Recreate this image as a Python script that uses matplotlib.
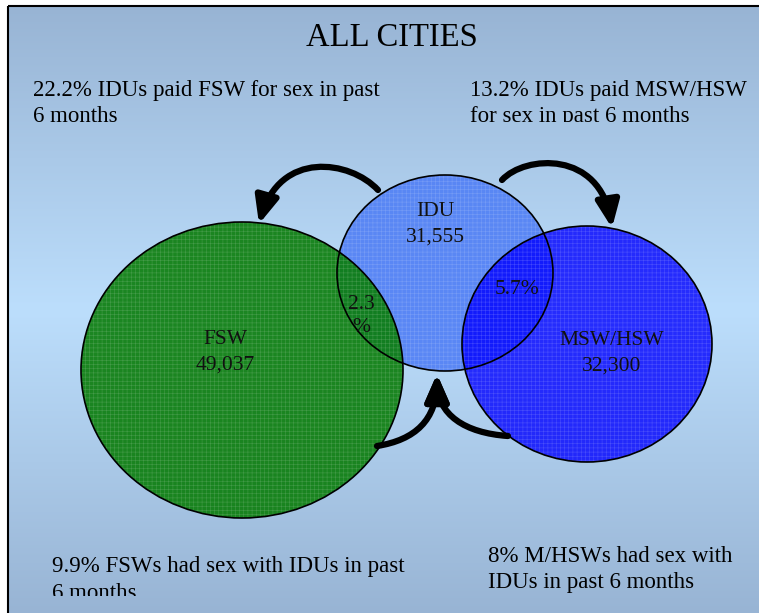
import numpy as np
import matplotlib.pyplot as plt
from matplotlib.patches import Ellipse, Rectangle, FancyArrowPatch
from matplotlib.path import Path
from matplotlib.transforms import Bbox

# groups: label, size, centre (px), half-width, half-height, colour, alpha
groups = ["FSW", "IDU", "MSW/HSW"]
sizes = ["49,037", "31,555", "32,300"]
centres = [(242, 370), (445, 273), (587, 344)]
half_w = [161, 108, 125]
half_h = [148, 98, 118]
fills = ["#0a7d0a", "#5583f5", "#0000ff"]
alphas = [0.9, 0.95, 0.8]
order = [1, 0, 2]

overlaps = ["2.3\n%", "5.7%"]

notes_top = ["22.2% IDUs paid FSW for sex in past\n6 months",
             "13.2% IDUs paid MSW/HSW\nfor sex in past 6 months"]
notes_bottom = ["9.9% FSWs had sex with IDUs in past\n6 months",
                "8% M/HSWs had sex with\nIDUs in past 6 months"]

plt.rcParams['font.family'] = ['Liberation Serif', 'DejaVu Serif']
plt.rcParams['hatch.linewidth'] = 0.4

fig = plt.figure(figsize=(7.59, 6.13), dpi=100)
ax = fig.add_axes([0, 0, 1, 1])
ax.set_xlim(0, 759)
ax.set_ylim(613, 0)
ax.axis('off')

# background gradient inside the frame
top = np.array([152, 180, 212]) / 255
mid = np.array([188, 222, 252]) / 255
t = np.abs(np.linspace(-1, 1, 300))[:, None]
grad = (1 - t) * mid + t * top
ax.imshow(grad[:, None, :].repeat(2, axis=1), extent=(8, 760, 614, 6),
          aspect='auto', zorder=0)
ax.add_patch(Rectangle((8, 6), 760, 610, fill=False, ec='black', lw=1.5, zorder=1))

# circles
for i in order:
    e = Ellipse(centres[i], 2 * half_w[i], 2 * half_h[i], fc=fills[i],
                alpha=alphas[i], ec='none', zorder=2)
    ax.add_patch(e)
    ax.add_patch(Ellipse(centres[i], 2 * half_w[i], 2 * half_h[i], fill=False,
                         hatch='++++', ec=(1, 1, 1, 0.18), lw=0, zorder=2))
    ax.add_patch(Ellipse(centres[i], 2 * half_w[i], 2 * half_h[i], fill=False,
                         ec='black', lw=1.2, zorder=3))

label_pos = [(225, 352), (435, 224), (612, 353)]
for i in range(3):
    ax.text(*label_pos[i], groups[i] + "\n" + sizes[i], ha='center', va='center',
            fontsize=15.5, linespacing=1.45, color='#111111', zorder=5)
ax.text(361, 316, overlaps[0], ha='center', va='center', fontsize=15.5,
        linespacing=1.35, color='#111111', zorder=5)
ax.text(517, 290, overlaps[1], ha='center', va='center', fontsize=15.5,
        color='#111111', zorder=5)

# arrows
curves = [
    [(378, 190), (350, 160), (280, 150), (259, 224)],
    [(502, 180), (525, 155), (600, 150), (612, 228)],
    [(377, 446), (415, 440), (437, 420), (437, 374)],
    [(508, 436), (465, 433), (437, 415), (437, 374)],
]
for c in curves:
    p = Path(c, [Path.MOVETO, Path.CURVE4, Path.CURVE4, Path.CURVE4])
    ax.add_patch(FancyArrowPatch(path=p, arrowstyle='-|>,head_length=0.8,head_width=0.35',
                                 mutation_scale=20, color='black', lw=4.5, zorder=4))

ax.text(392, 38, "ALL CITIES", ha='center', va='center', fontsize=23.5, zorder=5)

# text boxes clip their last line, as in the original slide
H = 613
clip_top = Bbox.from_extents(0, H - 122, 759, H - 60)
clip_bot = Bbox.from_extents(0, H - 596, 759, H - 530)
for x, s in zip([33, 470], notes_top):
    tx = ax.text(x, 80, s, ha='left', va='top', fontsize=16.5, linespacing=1.3, zorder=5)
    tx.set_clip_on(True)
    tx.set_clip_box(clip_top)
tx = ax.text(52, 556, notes_bottom[0], ha='left', va='top', fontsize=16.5,
             linespacing=1.36, zorder=5)
tx.set_clip_on(True)
tx.set_clip_box(clip_bot)
ax.text(488, 546, notes_bottom[1], ha='left', va='top', fontsize=16.5, linespacing=1.3,
        zorder=5)

plt.savefig('out.png', dpi=100)
